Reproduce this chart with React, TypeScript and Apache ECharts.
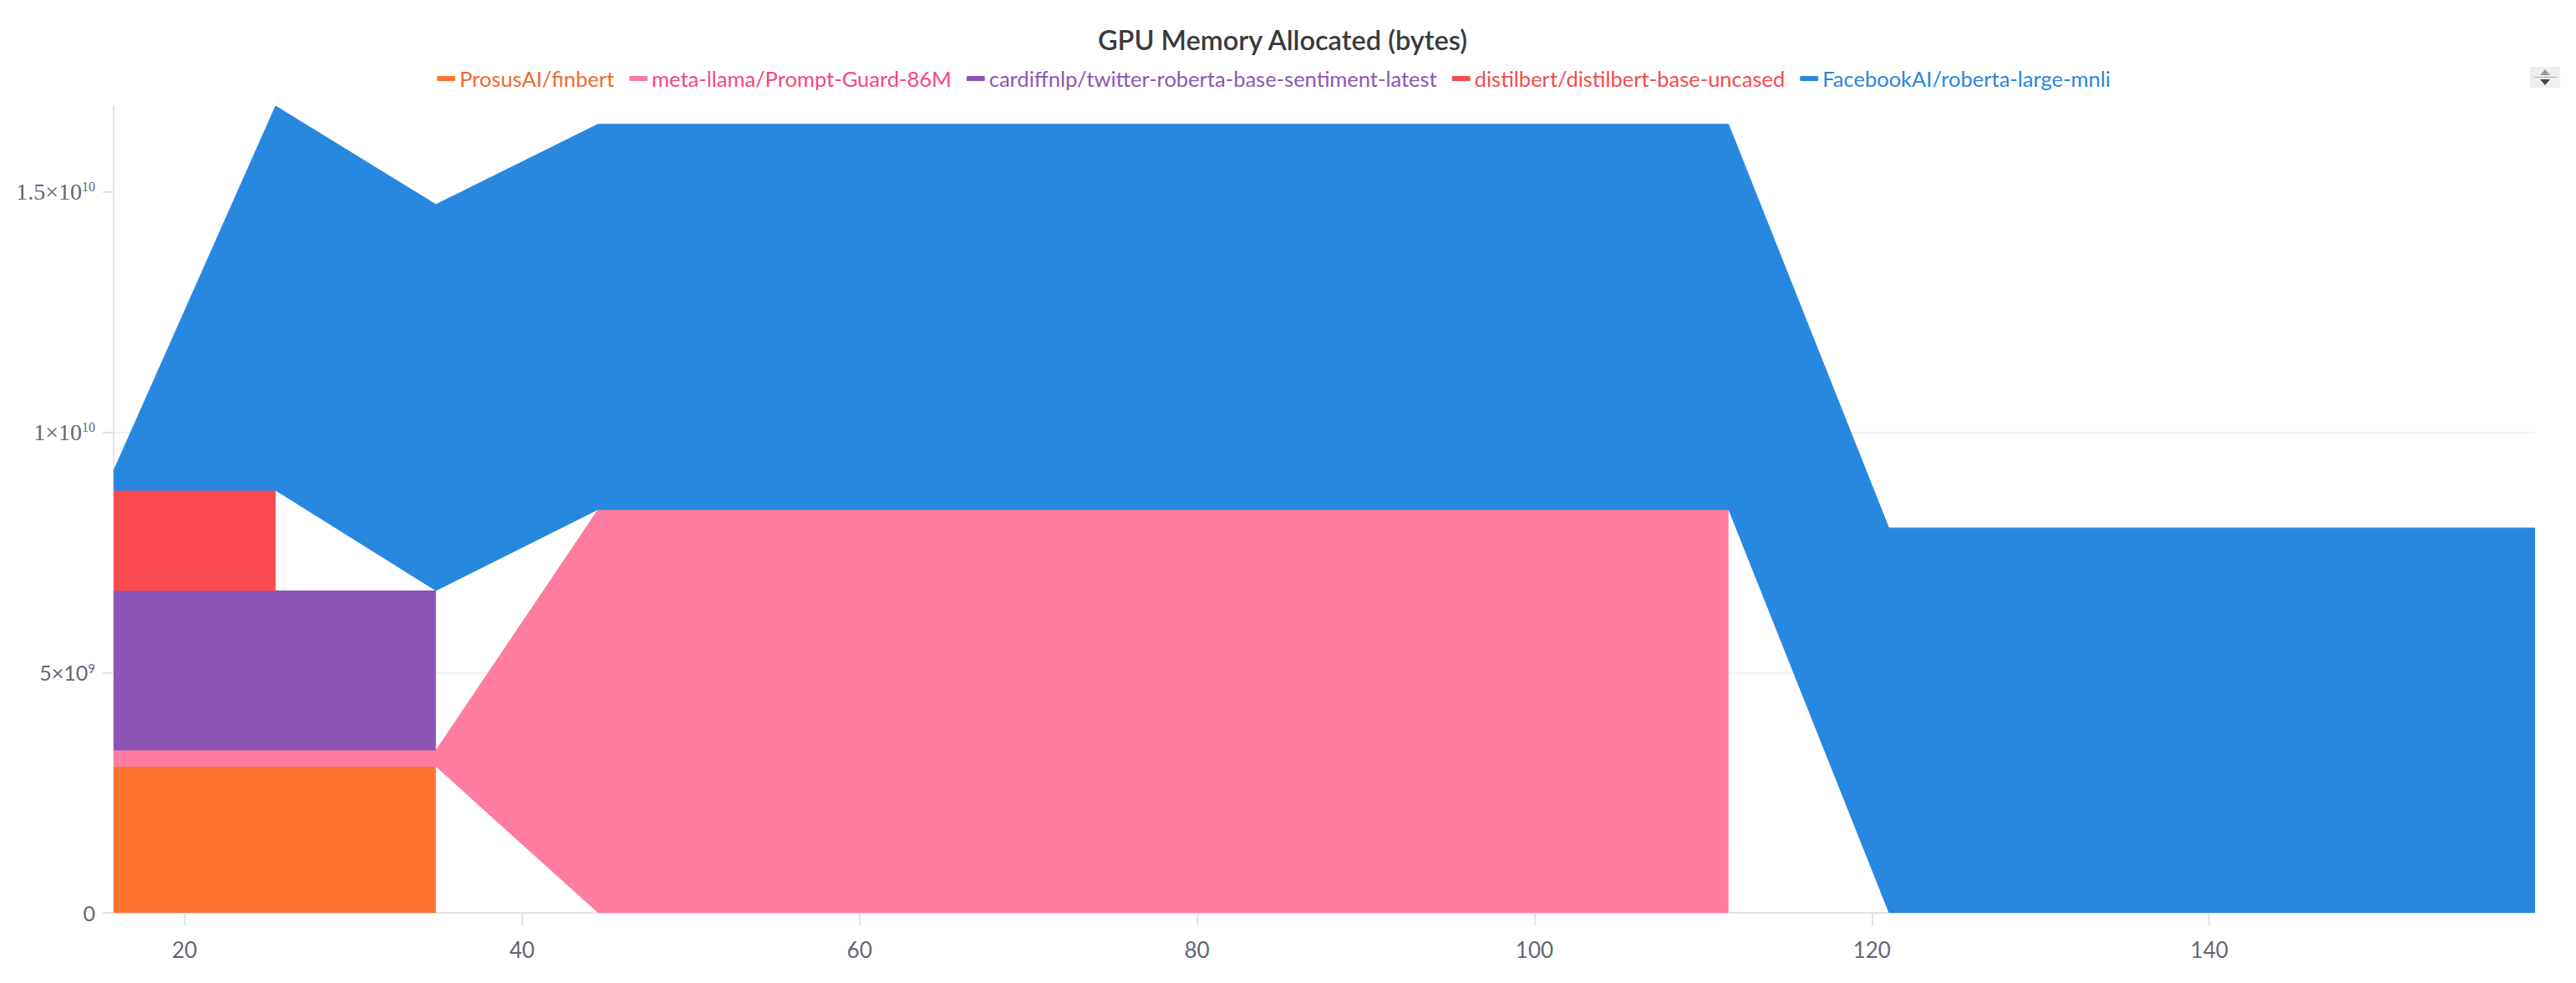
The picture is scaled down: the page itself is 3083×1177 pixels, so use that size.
import React, { useEffect, useRef } from "react";
import * as echarts from "echarts";

// x positions (step index of the logged system metric)
const xValues = [15.8, 25.4, 34.9, 44.5, 54.1, 63.6, 73.2, 82.8, 92.3, 101.9, 111.5, 121.0, 130.6, 140.2, 149.7, 159.3];

const runNames = [
  "ProsusAI/finbert",
  "meta-llama/Prompt-Guard-86M",
  "cardiffnlp/twitter-roberta-base-sentiment-latest",
  "distilbert/distilbert-base-uncased",
  "FacebookAI/roberta-large-mnli",
];

// GPU memory allocated (bytes), per run, aligned with xValues (null = no value logged)
const finbert = [3.04e9, 3.04e9, 3.04e9, null, null, null, null, null, null, null, null, null, null, null, null, null];
const promptGuard = [0.34e9, 0.34e9, 0.34e9, 8.385e9, 8.385e9, 8.385e9, 8.385e9, 8.385e9, 8.385e9, 8.385e9, 8.385e9, null, null, null, null, null];
const twitterRoberta = [3.32e9, 3.32e9, 3.32e9, null, null, null, null, null, null, null, null, null, null, null, null, null];
const distilbert = [2.085e9, 2.085e9, null, null, null, null, null, null, null, null, null, null, null, null, null, null];
const robertaMnli = [0.415e9, 8.005e9, 8.04e9, 8.025e9, 8.025e9, 8.025e9, 8.025e9, 8.025e9, 8.025e9, 8.025e9, 8.025e9, 8.01e9, 8.01e9, 8.01e9, 8.01e9, 8.01e9];

const runValues = [finbert, promptGuard, twitterRoberta, distilbert, robertaMnli];

const areaColors = ["#FF7431", "#FF7CA1", "#8C55B5", "#FB4B4E", "#2888E0"];
const legendTextColors = ["#F06A2C", "#F5457F", "#8D56B6", "#F54A4E", "#2986DE"];

const xTickValues = [20, 40, 60, 80, 100, 120, 140];
const yTickValues = [0, 5e9, 1e10, 1.5e10];

const chartTitle = "GPU Memory Allocated (bytes)";

const LABEL_COLOR = "#666673";

function yLabel(v: number): string {
  if (v === 0) return "0";
  if (v === 5e9) return "5×10{sup|9}";
  if (v === 1e10) return "{t|1×10}{tsup|10}";
  if (v === 1.5e10) return "{t|1.5×10}{tsup|10}";
  return "";
}

export default function App() {
  const ref = useRef<HTMLDivElement>(null);

  useEffect(() => {
    if (!ref.current) return;
    const chart = echarts.init(ref.current, undefined, { renderer: "svg" });

    // data rows are [value, x] so that stacking happens on the value (y) dimension
    const series = runNames.map((name, i) => ({
      name,
      type: "line",
      stack: "total",
      data: xValues.map((x, k) => [runValues[i][k], x]),
      encode: { x: 1, y: 0 },
      showSymbol: false,
      symbol: "none",
      connectNulls: false,
      color: areaColors[i],
      itemStyle: { color: areaColors[i] },
      lineStyle: { color: areaColors[i], width: 1 },
      areaStyle: { color: areaColors[i], opacity: 1 },
      emphasis: { disabled: true },
      z: 2 + i,
    }));

    chart.setOption({
      animation: false,
      backgroundColor: "#ffffff",
      grid: {
        left: 136,
        right: 49,
        top: 127,
        bottom: 84,
        containLabel: false,
        outerBoundsMode: "none",
      },
      legend: {
        left: 518,
        top: 74,
        icon: "roundRect",
        itemWidth: 22,
        itemHeight: 6,
        itemGap: 18,
        textStyle: { fontFamily: "Lato", fontSize: 25.5, lineHeight: 30 },
        data: runNames.map((name, i) => ({
          name,
          textStyle: { color: legendTextColors[i] },
        })),
      },
      xAxis: {
        type: "value",
        min: xValues[0],
        max: xValues[xValues.length - 1],
        axisLine: { show: true, onZero: false, lineStyle: { color: "#e2e2e6", width: 2 } },
        axisTick: {
          show: true,
          length: 15,
          customValues: xTickValues,
          lineStyle: { color: "#e2e2e6", width: 2 },
        },
        axisLabel: {
          customValues: xTickValues,
          fontFamily: "Lato",
          fontSize: 26,
          color: LABEL_COLOR,
          margin: 31,
        },
        splitLine: { show: false },
      },
      yAxis: {
        type: "value",
        min: 0,
        max: "dataMax",
        interval: 5e9,
        axisLine: { show: true, lineStyle: { color: "#e2e2e6", width: 2 } },
        axisTick: {
          show: true,
          length: 13,
          customValues: yTickValues,
          lineStyle: { color: "#e2e2e6", width: 2 },
        },
        axisLabel: {
          customValues: yTickValues,
          fontFamily: "Lato",
          fontSize: 25,
          color: LABEL_COLOR,
          margin: 22,
          formatter: (v: number) => yLabel(v),
          rich: {
            sup: { fontFamily: "Lato", fontSize: 15, color: LABEL_COLOR, verticalAlign: "top" },
            t: { fontFamily: "Liberation Serif", fontSize: 28, color: LABEL_COLOR },
            tsup: { fontFamily: "Liberation Serif", fontSize: 16, color: LABEL_COLOR, verticalAlign: "top" },
          },
        },
        splitLine: {
          show: true,
          showMaxLine: false,
          lineStyle: { color: "#f1f1f3", width: 2 },
        },
      },
      series,
      graphic: [
        {
          type: "text",
          x: 1535,
          y: 47,
          style: {
            text: chartTitle,
            align: "center",
            verticalAlign: "middle",
            fontFamily: "Lato",
            fontWeight: 600,
            fontSize: 32.5,
            fill: "#3a3a3d",
          },
        },
        {
          type: "group",
          x: 3028,
          y: 80,
          children: [
            { type: "rect", shape: { x: 0, y: 0, width: 36, height: 25 }, style: { fill: "#eeeeee" } },
            { type: "polygon", shape: { points: [[18, 3], [12, 10], [24, 10]] }, style: { fill: "#9a9a9a" } },
            { type: "line", shape: { x1: 4, y1: 12.5, x2: 32, y2: 12.5 }, style: { stroke: "#b0b0b0", lineWidth: 1 } },
            { type: "polygon", shape: { points: [[12, 15], [24, 15], [18, 22]] }, style: { fill: "#444444" } },
          ],
        },
      ],
    });

    return () => {
      chart.dispose();
    };
  }, []);

  return (
    <div
      ref={ref}
      style={{ position: "fixed", left: 0, top: 0, width: 3083, height: 1177 }}
    />
  );
}
